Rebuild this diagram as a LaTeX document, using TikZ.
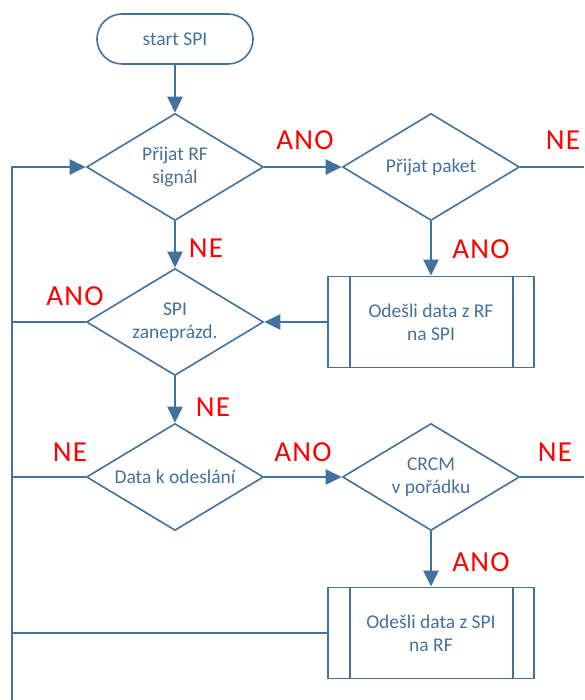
\documentclass[tikz,border=0pt]{standalone}
\usepackage{fontspec}
\setmainfont{Carlito}
\newfontfamily\labfont[LetterSpace=4]{Carlito}
\usetikzlibrary{shapes.geometric,arrows.meta}
\definecolor{vblue}{HTML}{41719C}
\definecolor{tblue}{HTML}{45709E}
\begin{document}
\begin{tikzpicture}[x=1pt,y=-1pt,
  every node/.style={font=\fontsize{19.5}{23}\selectfont, text=tblue, align=center},
  dec/.style={diamond, draw=vblue, line width=1.6pt, minimum width=177pt, minimum height=107pt, inner sep=0pt, aspect=1.65},
  term/.style={rectangle, rounded corners=25pt, draw=vblue, line width=1.6pt, minimum width=156pt, minimum height=50pt},
  proc/.style={rectangle, draw=vblue, line width=1.8pt, minimum width=206pt, minimum height=91pt,
    path picture={\draw[vblue, line width=1.6pt]
      ([xshift=22pt]path picture bounding box.north west) -- ([xshift=22pt]path picture bounding box.south west)
      ([xshift=-21pt]path picture bounding box.north east) -- ([xshift=-21pt]path picture bounding box.south east);}},
  arr/.style={draw=vblue, line width=2.4pt, -{Triangle[length=16pt,width=15pt]}},
  ln/.style={draw=vblue, line width=2pt},
  thinln/.style={draw=vblue, line width=1.5pt},
  lab/.style={font=\labfont\fontsize{29}{29}\selectfont, text=red}
]
\useasboundingbox (0,0) rectangle (584,700);
\node[term] (start) at (175,39) {start SPI};
\node[dec] (d1) at (175,167) {Přijat RF\\signál};
\node[dec] (d2) at (431,167) {Přijat paket};
\node[proc] (b1) at (431,322) {Odešli data z RF\\na SPI};
\node[dec] (d3) at (175,322) {SPI\\zaneprázd.};
\node[dec] (d4) at (175,477) {Data k odeslání};
\node[dec] (d5) at (431,477) {CRCM\\v pořádku};
\node[proc] (b2) at (431,633) {Odešli data z SPI\\na RF};

\coordinate (lb) at (12,700);
\coordinate (rr) at (584,167);

\draw[arr] (start.south) -- (d1.north);
\draw[arr] (d1.east) -- (d2.west);
\draw[arr] (d1.south) -- (d3.north);
\draw[arr] (d2.south) -- (b1.north);
\draw[arr] (b1.west) -- (d3.east);
\draw[arr] (d3.south) -- (d4.north);
\draw[arr] (d4.east) -- (d5.west);
\draw[arr] (d5.south) -- (b2.north);

\draw[arr] (lb) |- (d1.west);
\draw[ln] (d3.west) -- (d3.west -| lb);
\draw[ln] (d4.west) -- (d4.west -| lb);
\draw[ln] (b2.west) -- (b2.west -| lb);

\draw[thinln] (d2.east) -- (d2.east -| rr);
\draw[thinln] (d5.east) -- (d5.east -| rr);

\node[lab] (l1) at (305,140) {ANO};
\node[lab] (l2) at (563,140) {NE};
\node[lab] (l3) at (206,248) {NE};
\node[lab] (l4) at (481,249) {ANO};
\node[lab] (l5) at (75,296) {ANO};
\node[lab] (l6) at (213,407) {NE};
\node[lab] (l7) at (70,452) {NE};
\node[lab] (l8) at (303,452) {ANO};
\node[lab] (l9) at (555,452) {NE};
\node[lab] (l10) at (481,562) {ANO};
\end{tikzpicture}
\end{document}
